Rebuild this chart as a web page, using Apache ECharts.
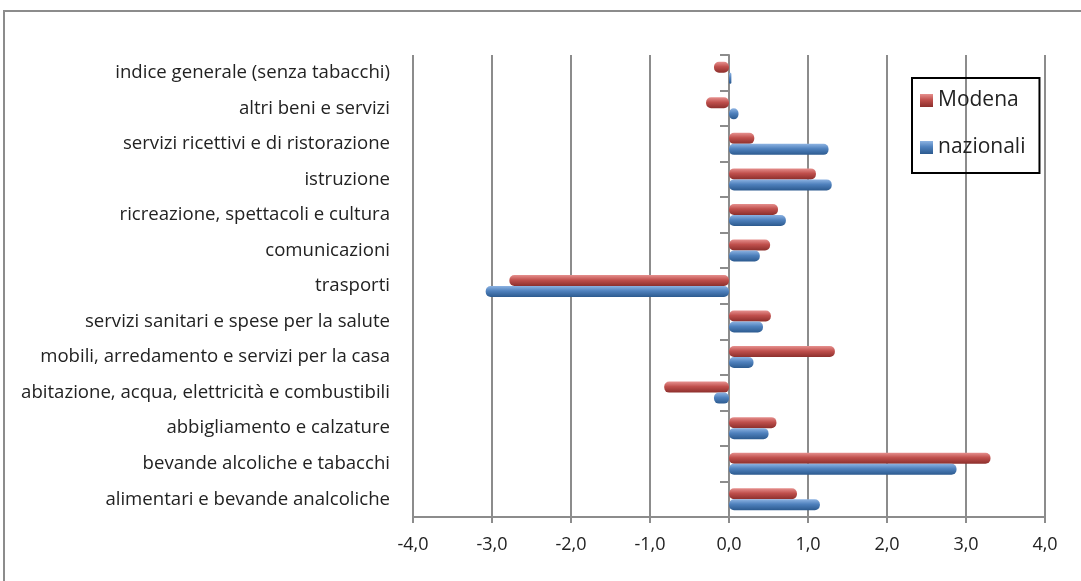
<!DOCTYPE html>
<html><head><meta charset="utf-8">
<script src="https://cdn.jsdelivr.net/npm/echarts@6/dist/echarts.min.js"></script>
<style>html,body{margin:0;padding:0;background:#fff}#c{width:1081px;height:581px}</style>
</head><body><div id="c"></div>
<script>
// categories listed bottom to top
var categories = [
  'alimentari e bevande analcoliche',
  'bevande alcoliche e tabacchi',
  'abbigliamento e calzature',
  'abitazione, acqua, elettricità e combustibili',
  'mobili, arredamento e servizi per la casa',
  'servizi sanitari e spese per la salute',
  'trasporti',
  'comunicazioni',
  'ricreazione, spettacoli e cultura',
  'istruzione',
  'servizi ricettivi e di ristorazione',
  'altri beni e servizi',
  'indice generale (senza tabacchi)'
];
var modena    = [0.86, 3.31, 0.60, -0.82, 1.34, 0.53, -2.78, 0.52, 0.62, 1.10, 0.32, -0.29, -0.19];
var nazionali = [1.15, 2.88, 0.50, -0.19, 0.31, 0.43, -3.08, 0.39, 0.72, 1.30, 1.26, 0.12, 0.03];
var xTicks = [-4, -3, -2, -1, 0, 1, 2, 3, 4];

function grad(light, base, dark) {
  return new echarts.graphic.LinearGradient(0, 0, 0, 1, [
    {offset: 0, color: light}, {offset: 0.45, color: base}, {offset: 1, color: dark}
  ]);
}
var chart = echarts.init(document.getElementById('c'));
chart.setOption({
  animation: false,
  textStyle: {fontFamily: 'Open Sans'},
  graphic: [{
    type: 'rect', shape: {x: 4, y: 11, width: 1200, height: 700},
    style: {fill: 'none', stroke: '#8c8c8c', lineWidth: 2}, z: -1
  }],
  legend: {
    data: ['Modena', 'nazionali'],
    orient: 'vertical',
    left: 912, top: 78,
    padding: [12, 14, 15, 8],
    itemGap: 26,
    itemWidth: 13, itemHeight: 13,
    borderColor: '#000', borderWidth: 2,
    icon: 'rect',
    textStyle: {fontSize: 21, color: '#222', fontFamily: 'Open Sans'}
  },
  grid: {left: 413, right: 36, top: 55, bottom: 64},
  xAxis: {
    type: 'value', min: -4, max: 4, interval: 1,
    axisLine: {show: true, onZero: false, lineStyle: {color: '#8c8c8c', width: 2}},
    axisTick: {show: true, length: 6, lineStyle: {color: '#8c8c8c', width: 2}},
    axisLabel: {margin: 19, fontSize: 18, color: '#222',
      formatter: function (v) { return v.toFixed(1).replace('.', ','); }},
    splitLine: {show: true, lineStyle: {color: '#8c8c8c', width: 2}}
  },
  yAxis: {
    type: 'category', data: categories,
    axisLine: {show: true, onZero: true, lineStyle: {color: '#8c8c8c', width: 2}},
    axisTick: {show: true, length: 9, lineStyle: {color: '#8c8c8c', width: 2}},
    axisLabel: {fontSize: 18.6, color: '#222', margin: 23},
    position: 'left'
  },
  series: [
    {
      name: 'Modena', type: 'bar', data: modena,
      barWidth: 11, barGap: '0%',
      itemStyle: {color: grad('#e6908e', '#c0504d', '#8c2f2c'), borderRadius: 5}
    },
    {
      name: 'nazionali', type: 'bar', data: nazionali,
      barWidth: 11, barGap: '0%',
      itemStyle: {color: grad('#8db3e2', '#4f81bd', '#2c5a8f'), borderRadius: 5}
    }
  ]
});
</script></body></html>
